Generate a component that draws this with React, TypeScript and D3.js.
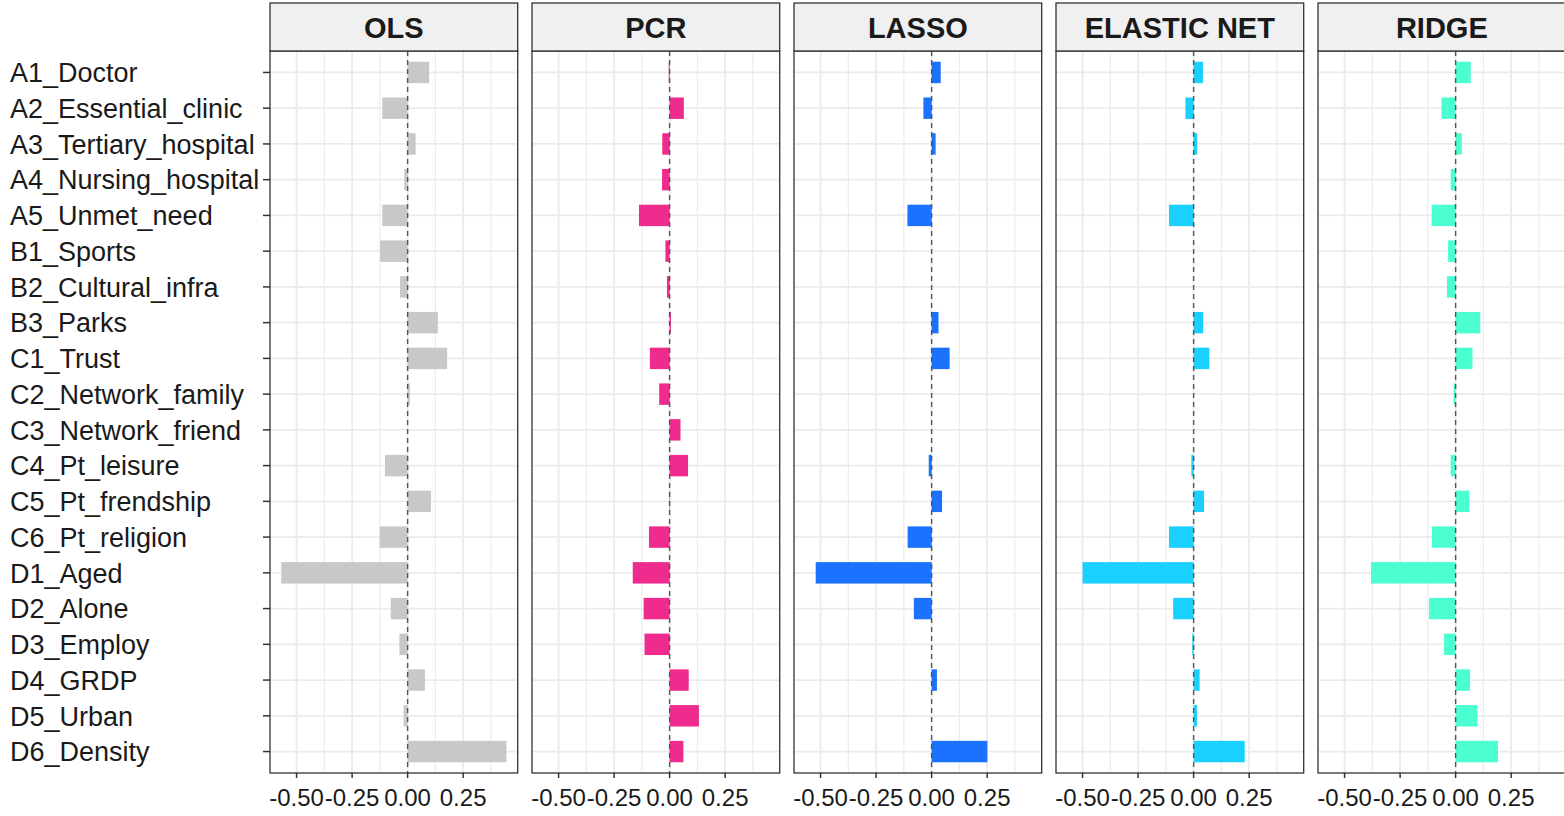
import React from "react";
import * as d3 from "d3";

const categories = [
  "A1_Doctor", "A2_Essential_clinic", "A3_Tertiary_hospital", "A4_Nursing_hospital",
  "A5_Unmet_need", "B1_Sports", "B2_Cultural_infra", "B3_Parks", "C1_Trust",
  "C2_Network_family", "C3_Network_friend", "C4_Pt_leisure", "C5_Pt_frendship",
  "C6_Pt_religion", "D1_Aged", "D2_Alone", "D3_Employ", "D4_GRDP", "D5_Urban", "D6_Density",
];

const models = ["OLS", "PCR", "LASSO", "ELASTIC NET", "RIDGE"];
const modelColors = ["#c8c8c8", "#f02b8e", "#1b72ff", "#19d0ff", "#4bffd3"];

const olsValues = [0.097, -0.114, 0.036, -0.015, -0.114, -0.124, -0.034, 0.136, 0.178, 0.01,
  0.0, -0.102, 0.105, -0.126, -0.569, -0.076, -0.037, 0.078, -0.018, 0.445];
const pcrValues = [-0.004, 0.064, -0.033, -0.034, -0.138, -0.019, -0.012, 0.006, -0.089, -0.047,
  0.049, 0.083, 0.002, -0.093, -0.166, -0.117, -0.113, 0.086, 0.132, 0.062];
const lassoValues = [0.041, -0.037, 0.018, 0, -0.109, 0, 0, 0.031, 0.081, 0,
  0, -0.013, 0.047, -0.108, -0.522, -0.080, 0, 0.024, 0, 0.251];
const enetValues = [0.042, -0.037, 0.016, 0, -0.111, 0, 0, 0.043, 0.071, 0,
  0, -0.010, 0.047, -0.111, -0.500, -0.092, -0.006, 0.027, 0.015, 0.230];
const ridgeValues = [0.068, -0.064, 0.028, -0.022, -0.108, -0.034, -0.039, 0.111, 0.076, -0.009,
  0.002, -0.022, 0.062, -0.107, -0.381, -0.120, -0.052, 0.065, 0.098, 0.191];

const seriesValues = [olsValues, pcrValues, lassoValues, enetValues, ridgeValues];

const majorTicks = [-0.5, -0.25, 0, 0.25];
const tickLabels = ["-0.50", "-0.25", "0.00", "0.25"];
const minorTicks = [-0.625, -0.375, -0.125, 0.125, 0.375];

export default function App() {
  const W = 1564, H = 816;
  const firstLeft = 270, panelStep = 262, panelW = 247.7;
  const stripTop = 3, plotTop = 51, plotBottom = 773;

  const all = seriesValues.flat().concat([0]);
  const [mn, mx] = d3.extent(all) as [number, number];
  const pad = (mx - mn) * 0.05;
  const x = d3.scaleLinear().domain([mn - pad, mx + pad]).range([0, panelW]);
  const y = d3.scaleBand<string>().domain(categories).range([plotTop, plotBottom])
    .paddingInner(0.4).paddingOuter(0.3);
  const [d0, d1] = x.domain();

  const font = "'Liberation Sans', Arial, sans-serif";

  return (
    <svg width={W} height={H} style={{ position: "absolute", left: 0, top: 0, display: "block" }}
      fontFamily={font}>
      <rect x={0} y={0} width={W} height={H} fill="#fff" />
      {categories.map((c) => (
        <g key={c}>
          <text x={10} y={(y(c) as number) + y.bandwidth() / 2} dy="0.36em" textAnchor="start"
            fontSize={27} fill="#1a1a1a">{c}</text>
          <line x1={263} x2={270} y1={(y(c) as number) + y.bandwidth() / 2}
            y2={(y(c) as number) + y.bandwidth() / 2} stroke="#333" strokeWidth={1.5} />
        </g>
      ))}
      {models.map((m, i) => {
        const left = firstLeft + i * panelStep;
        const vals = seriesValues[i];
        return (
          <g key={m} transform={`translate(${left},0)`}>
            <rect x={0} y={plotTop} width={panelW} height={plotBottom - plotTop} fill="#fff" />
            {minorTicks.filter((t) => t >= d0 && t <= d1).map((t) => (
              <line key={"mn" + t} x1={x(t)} x2={x(t)} y1={plotTop} y2={plotBottom}
                stroke="#ececec" strokeWidth={1.2} />
            ))}
            {majorTicks.map((t) => (
              <line key={"mj" + t} x1={x(t)} x2={x(t)} y1={plotTop} y2={plotBottom}
                stroke="#ebebeb" strokeWidth={1.8} />
            ))}
            {categories.map((c) => (
              <line key={"h" + c} x1={0} x2={panelW}
                y1={(y(c) as number) + y.bandwidth() / 2} y2={(y(c) as number) + y.bandwidth() / 2}
                stroke="#ebebeb" strokeWidth={1.8} />
            ))}
            {categories.map((c, j) => {
              const v = vals[j];
              if (v === 0) return null;
              return (
                <rect key={"b" + c} x={Math.min(x(0), x(v))} y={y(c) as number}
                  width={Math.abs(x(v) - x(0))} height={y.bandwidth()} fill={modelColors[i]} />
              );
            })}
            <line x1={x(0)} x2={x(0)} y1={plotTop} y2={plotBottom} stroke="#555"
              strokeWidth={1.4} strokeDasharray="5,4" />
            <rect x={0} y={plotTop} width={panelW} height={plotBottom - plotTop} fill="none"
              stroke="#333" strokeWidth={1.3} />
            <rect x={0} y={stripTop} width={panelW} height={plotTop - stripTop} fill="#f0f0f0"
              stroke="#333" strokeWidth={1.3} />
            <text x={panelW / 2} y={38} textAnchor="middle" fontSize={29} fontWeight="bold"
              fill="#1a1a1a">{m}</text>
            {majorTicks.map((t, k) => (
              <g key={"t" + t}>
                <line x1={x(t)} x2={x(t)} y1={plotBottom} y2={plotBottom + 5} stroke="#333"
                  strokeWidth={1.5} />
                <text x={x(t)} y={806} textAnchor="middle" fontSize={24} fill="#1a1a1a">
                  {tickLabels[k]}
                </text>
              </g>
            ))}
          </g>
        );
      })}
    </svg>
  );
}
